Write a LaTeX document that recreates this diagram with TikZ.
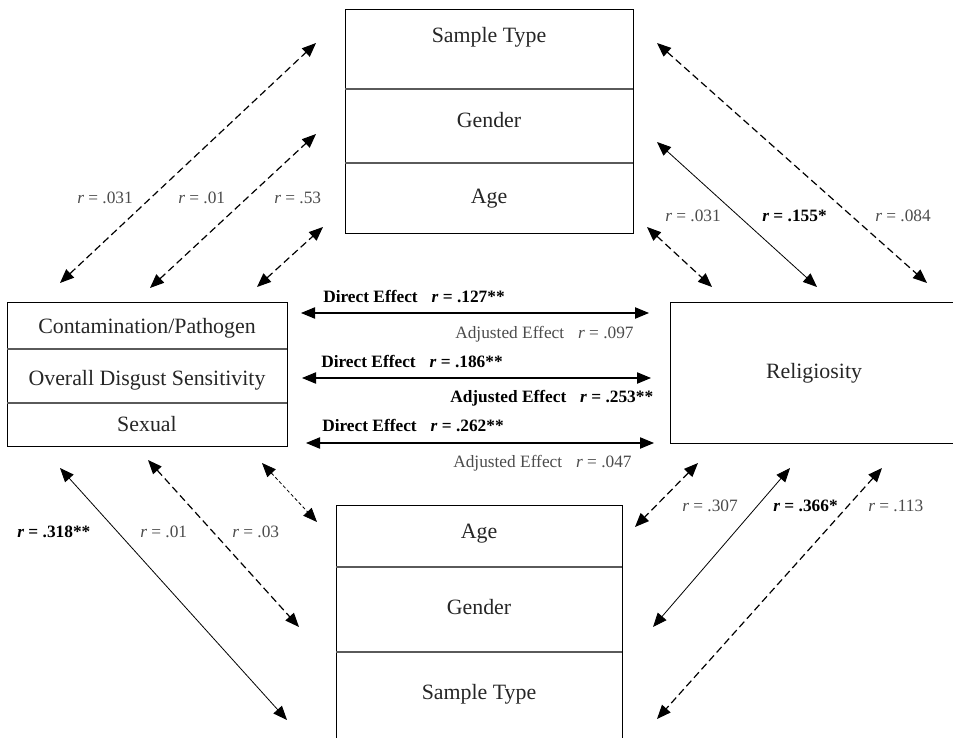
\documentclass[tikz,border=0pt]{standalone}
\usepackage{fontspec}
\setmainfont{Liberation Serif}
\usepackage{tikz}
\usetikzlibrary{arrows.meta}
\definecolor{labgray}{RGB}{75,75,75}
\definecolor{rulegray}{RGB}{90,90,90}

\begin{document}
\begin{tikzpicture}[x=0.75pt,y=-0.75pt,
  boxtxt/.style={font=\fontsize{16.4}{19}\selectfont,text=black!85,inner sep=0pt,anchor=base},
  rlab/.style={font=\fontsize{13}{15}\selectfont,text=labgray,inner sep=0pt,anchor=base west},
  rbold/.style={rlab,text=black,font=\fontsize{13}{15}\selectfont\bfseries},
  corr/.style={{Triangle[length=10.5pt,width=8.5pt]}-{Triangle[length=10.5pt,width=8.5pt]},line width=0.6pt},
  ncorr/.style={corr,dash pattern=on 5.5pt off 3pt,line width=0.9pt},
  fcorr/.style={corr,dash pattern=on 2.5pt off 1.8pt,line width=0.6pt},
  effect/.style={corr,line width=0.8pt}]
  \useasboundingbox (0,0) rectangle (953,738);

  % boxes
  \draw[line width=0.7pt] (345,9) rectangle (633,233);
  \draw[rulegray,line width=0.8pt] (345,89) -- (633,89) (345,163) -- (633,163);
  \draw[line width=0.7pt] (7,302) rectangle (287,446);
  \draw[rulegray,line width=0.8pt] (7,349) -- (287,349) (7,403) -- (287,403);
  \draw[line width=0.7pt] (670,302) rectangle (958,443);
  \draw[line width=0.7pt] (336,505) rectangle (622,750);
  \draw[rulegray,line width=0.8pt] (336,567) -- (622,567) (336,652) -- (622,652);

  \node[boxtxt] (covSample) at (489,43) {Sample Type};
  \node[boxtxt] (covGender) at (489,128) {Gender};
  \node[boxtxt] (covAge) at (489,204) {Age};
  \node[boxtxt] (dsCont) at (147,333) {Contamination/Pathogen};
  \node[boxtxt] (dsOverall) at (147,385) {Overall Disgust Sensitivity};
  \node[boxtxt] (dsSexual) at (147,431) {Sexual};
  \node[boxtxt] (relig) at (814,378) {Religiosity};
  \node[boxtxt] (ctlAge) at (479,538) {Age};
  \node[boxtxt] (ctlGender) at (479,614) {Gender};
  \node[boxtxt] (ctlSample) at (479,699) {Sample Type};

  % arrow ends
  \coordinate (tl1a) at (60,283);  \coordinate (tl1b) at (316,43);
  \coordinate (tl2a) at (150,288); \coordinate (tl2b) at (316,134);
  \coordinate (tl3a) at (257,287); \coordinate (tl3b) at (323,227);
  \coordinate (tr1a) at (657,43);  \coordinate (tr1b) at (927,283);
  \coordinate (tr2a) at (657,142); \coordinate (tr2b) at (817,287);
  \coordinate (tr3a) at (647,227); \coordinate (tr3b) at (712,287);
  \coordinate (ef1a) at (301,313); \coordinate (ef1b) at (649,313);
  \coordinate (ef2a) at (302,378); \coordinate (ef2b) at (651,378);
  \coordinate (ef3a) at (306,443); \coordinate (ef3b) at (654,443);
  \coordinate (bl1a) at (60,468);  \coordinate (bl1b) at (287,720);
  \coordinate (bl2a) at (148,460); \coordinate (bl2b) at (299,627);
  \coordinate (bl3a) at (262,463); \coordinate (bl3b) at (317,522);
  \coordinate (br1a) at (698,463); \coordinate (br1b) at (635,527);
  \coordinate (br2a) at (790,468); \coordinate (br2b) at (653,627);
  \coordinate (br3a) at (882,468); \coordinate (br3b) at (657,719);

  \draw[ncorr] (tl1a) -- (tl1b);
  \draw[ncorr] (tl2a) -- (tl2b);
  \draw[ncorr] (tl3a) -- (tl3b);
  \draw[ncorr] (tr1a) -- (tr1b);
  \draw[corr] (tr2a) -- (tr2b);
  \draw[ncorr] (tr3a) -- (tr3b);
  \draw[effect] (ef1a) -- (ef1b);
  \draw[effect] (ef2a) -- (ef2b);
  \draw[effect] (ef3a) -- (ef3b);
  \draw[corr] (bl1a) -- (bl1b);
  \draw[ncorr] (bl2a) -- (bl2b);
  \draw[fcorr] (bl3a) -- (bl3b);
  \draw[ncorr] (br1a) -- (br1b);
  \draw[corr] (br2a) -- (br2b);
  \draw[ncorr] (br3a) -- (br3b);

  % labels
  \node[rlab] (rTL1) at (77,204) {\textit{r} = .031};
  \node[rlab] (rTL2) at (178,204) {\textit{r} = .01};
  \node[rlab] (rTL3) at (274,204) {\textit{r} = .53};
  \node[rlab] (rTR1) at (665,221) {\textit{r} = .031};
  \node[rbold] (rTR2) at (762,221) {\textit{r} = .155*};
  \node[rlab] (rTR3) at (875,221) {\textit{r} = .084};
  \node[rbold] (rBL1) at (17,537) {\textit{r} = .318**};
  \node[rlab] (rBL2) at (140,537) {\textit{r} = .01};
  \node[rlab] (rBL3) at (232,537) {\textit{r} = .03};
  \node[rlab] (rBR1) at (682,511) {\textit{r} = .307};
  \node[rbold] (rBR2) at (773,511) {\textit{r} = .366*};
  \node[rlab] (rBR3) at (868,511) {\textit{r} = .113};

  \node[rbold] (dir1) at (323,302) {Direct Effect\hspace{0.8em}\textit{r} = .127**};
  \node[rlab] (adj1) at (455,338) {Adjusted Effect\hspace{0.8em}\textit{r} = .097};
  \node[rbold] (dir2) at (321,367) {Direct Effect\hspace{0.8em}\textit{r} = .186**};
  \node[rbold] (adj2) at (450,402) {Adjusted Effect\hspace{0.8em}\textit{r} = .253**};
  \node[rbold] (dir3) at (322,431) {Direct Effect\hspace{0.8em}\textit{r} = .262**};
  \node[rlab] (adj3) at (453,467) {Adjusted Effect\hspace{0.8em}\textit{r} = .047};
\end{tikzpicture}
\end{document}
